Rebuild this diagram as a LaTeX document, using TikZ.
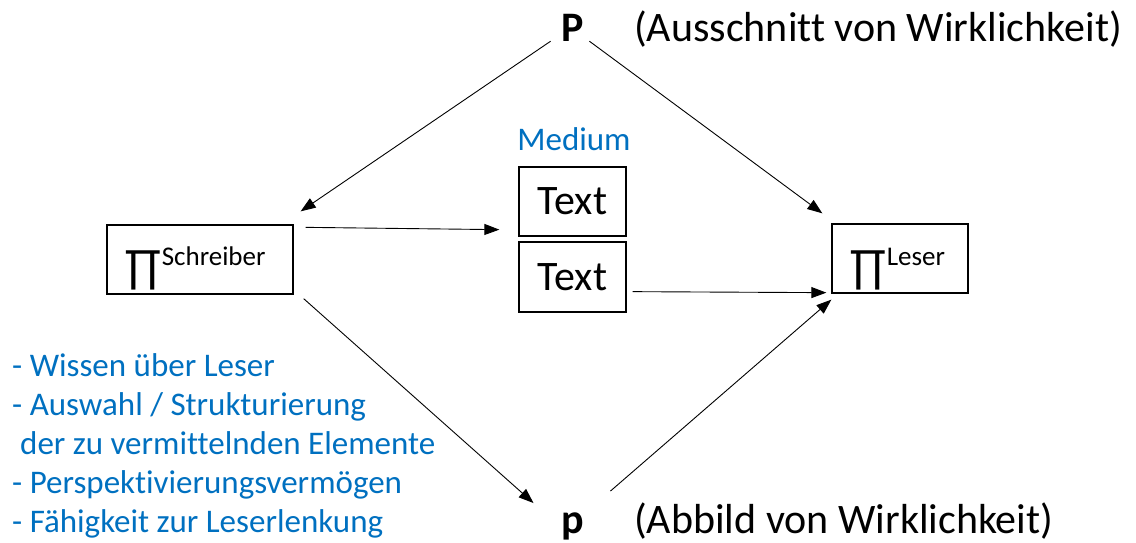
\documentclass[tikz,border=0pt]{standalone}
\usepackage{fontspec}
\setmainfont{Carlito}[Ligatures={NoCommon}]
\usetikzlibrary{arrows.meta,calc}
\definecolor{mblue}{HTML}{0070C0}
\begin{document}
\begin{tikzpicture}[x=1pt,y=-1pt,
  big/.style={font=\fontsize{42}{50}\selectfont},
  bluetxt/.style={text=mblue,font=\fontsize{33}{39}\selectfont,anchor=base west,inner sep=0pt},
  box/.style={draw,line width=1.3pt,inner sep=0pt},
  conn/.style={line width=0.9pt,-{Triangle[length=15pt,width=11pt]}}]
\useasboundingbox (0,0) rectangle (1136,543);
% boxes
\node[box,minimum width=186pt,minimum height=69pt] (S) at (200,259.5) {};
\node[box,minimum width=136pt,minimum height=69pt] (L) at (900,258.5) {};
\node[box,minimum width=107pt,minimum height=69pt,big] (T1) at (572.5,201.5) {Text};
\node[box,minimum width=107pt,minimum height=70pt,big] (T2) at (572.5,277) {Text};
% box contents
\node[anchor=base west,inner sep=0pt] (Spi) at (124,282) {\fontsize{47}{50}\selectfont ∏\raisebox{17pt}{\fontsize{27}{30}\selectfont Schreiber}};
\node[anchor=base west,inner sep=0pt] (Lpi) at (849,282) {\fontsize{47}{50}\selectfont ∏\raisebox{17pt}{\fontsize{27}{30}\selectfont Leser}};
\node[text=mblue,font=\fontsize{33}{39}\selectfont,anchor=base,inner sep=0pt] (med) at (574,150) {Medium};
% P and p
\node[font=\fontsize{42}{50}\selectfont\bfseries,anchor=base,inner sep=0pt] (P) at (573,42) {P};
\node[big,anchor=base west,inner sep=0pt] (Pt) at (634,42) {(Ausschnitt von Wirklichkeit)};
\node[font=\fontsize{42}{50}\selectfont\bfseries,anchor=base,inner sep=0pt] (p) at (573,533) {p};
\node[big,anchor=base west,inner sep=0pt] (pt) at (634,533) {(Abbild von Wirklichkeit)};
% blue list
\node[bluetxt] (l1) at (12,376) {- Wissen über Leser};
\node[bluetxt] (l2) at (12,415) {- Auswahl / Strukturierung};
\node[bluetxt] (l3) at (20,454) {der zu vermittelnden Elemente};
\node[bluetxt] (l4) at (12,493) {- Perspektivierungsvermögen};
\node[bluetxt] (l5) at (12,532) {- Fähigkeit zur Leserlenkung};
% connectors
\draw[conn] ($(P.south west)+(-11,-1)$) -- ($(S.north east)+(7,-13)$);
\draw[conn] ($(P.south east)+(5,-1)$) -- ($(L.north west)+(-9,-10)$);
\draw[conn] ($(S.north east)+(12,3)$) -- ($(T1.south west)+(-19,-7)$);
\draw[conn] ($(T2.south east)+(6,-21)$) -- ($(L.south west)+(-5,-1)$);
\draw[conn] ($(S.south east)+(10,4)$) -- ($(p.north west)+(-28,-9)$);
\draw[conn] ($(p.north east)+(26,-21)$) -- ($(L.south west)+(0,6)$);
\end{tikzpicture}
\end{document}
